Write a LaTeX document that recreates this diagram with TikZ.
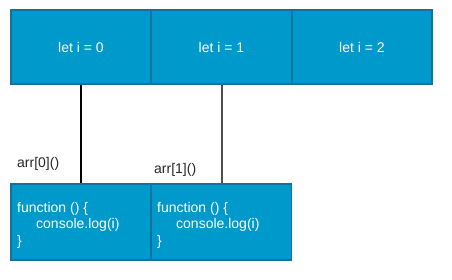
\documentclass[tikz,border=0pt]{standalone}
\usepackage{fontspec}
\setmainfont{Liberation Sans}
\definecolor{boxfill}{HTML}{0099CC}
\definecolor{boxline}{HTML}{10739E}
\definecolor{wire}{HTML}{4D4D4D}
\begin{document}
\begin{tikzpicture}[x=1pt,y=-1pt,
  cell/.style={draw=boxline,fill=boxfill,line width=1.2pt,minimum width=140pt,minimum height=74pt,text=white,font=\fontsize{14}{16}\selectfont,inner sep=0pt},
  codebox/.style={draw=boxline,fill=boxfill,line width=1.2pt,minimum width=140pt,minimum height=76pt,inner sep=0pt},
  codetext/.style={text=white,font=\fontsize{14}{16.5}\selectfont,align=left,anchor=west,inner sep=0pt},
  lbl/.style={font=\fontsize{14}{16}\selectfont,text=black!85,anchor=west,inner sep=0pt}]
\useasboundingbox (0,0) rectangle (452,280);
\node[cell] (t0) at (81,47) {let i = 0};
\node[cell] (t1) at (221.5,47) {let i = 1};
\node[cell] (t2) at (362,47) {let i = 2};
\node[codebox] (b0) at (81,222) {};
\node[codebox] (b1) at (221.5,222) {};
\node[codetext] (c0) at (17,225) {function () \{\\\hspace{19pt}console.log(i)\\\}};
\node[codetext] (c1) at (157,225) {function () \{\\\hspace{19pt}console.log(i)\\\}};
\draw[black,line width=2pt] (t0.south) -- (b0.north);
\draw[wire,line width=2pt] (t1.south) -- (b1.north);
\node[lbl] (l0) at (17,164) {arr[0]()};
\node[lbl] (l1) at (154,170) {arr[1]()};
\end{tikzpicture}
\end{document}
